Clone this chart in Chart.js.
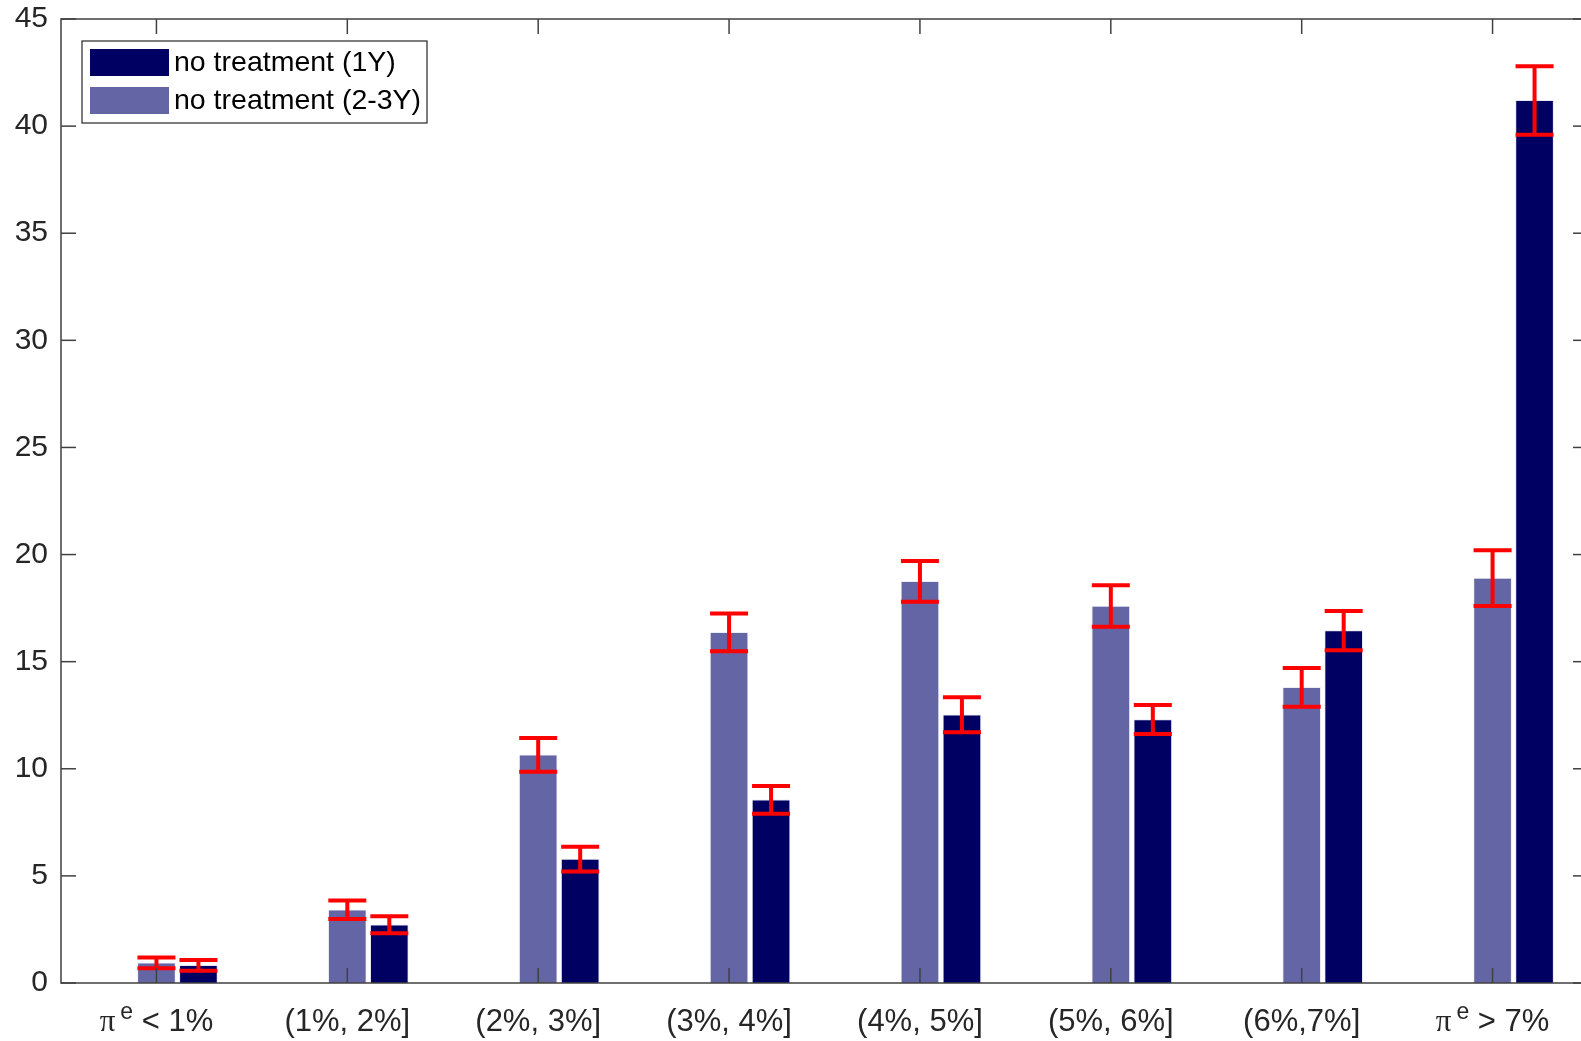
<!DOCTYPE html>
<html>
<head>
<meta charset="utf-8">
<script src="https://cdn.jsdelivr.net/npm/chart.js@4.4.1/dist/chart.umd.min.js"></script>
<style>
    html, body { margin: 0; padding: 0; background: #fff; overflow: hidden; }
    #wrap { width: 1600px; height: 1041px; }
</style>
</head>
<body>
<div id="wrap"><canvas id="expChart" width="1600" height="1041"></canvas></div>
<script>
// Expected inflation bins ("^" marks a superscript)
const categories = ["\u03c0^e < 1%", "(1%, 2%]", "(2%, 3%]", "(3%, 4%]", "(4%, 5%]", "(5%, 6%]", "(6%,7%]", "\u03c0^e > 7%"];

// Share of answers (%) and half-width of the error bar
const share1Y = [0.82, 2.72, 5.78, 8.55, 12.52, 12.3, 16.45, 41.2];
const err1Y = [0.25, 0.4, 0.58, 0.65, 0.82, 0.68, 0.92, 1.6];
const share23Y = [0.94, 3.42, 10.65, 16.37, 18.75, 17.6, 13.8, 18.9];
const err23Y = [0.25, 0.43, 0.79, 0.88, 0.95, 0.97, 0.9, 1.3];

const yTicks = [0, 5, 10, 15, 20, 25, 30, 35, 40, 45];

const FONT = "'Liberation Sans', Arial, Helvetica, sans-serif";
const TEXT_COLOR = "#262626";
const DARK = "#000062";
const LIGHT = "#6465a5";
const BAR_OFFSET = 0.22; // the 1Y bar sits right of the bin centre

// Error bars, axes box with inward ticks, x labels and legend
const decorations = {
    id: "decorations",
    afterDatasetsDraw(chart) {
        const ctx = chart.ctx;
        const area = chart.chartArea;
        const x = chart.scales.x;
        const y = chart.scales.y;

        function line(x1, y1, x2, y2) {
            ctx.beginPath();
            ctx.moveTo(x1, y1);
            ctx.lineTo(x2, y2);
            ctx.stroke();
        }

        ctx.save();

        // Error bars
        ctx.strokeStyle = "#ff0000";
        ctx.lineWidth = 4;
        chart.data.datasets.forEach((ds, d) => {
            const meta = chart.getDatasetMeta(d);
            meta.data.forEach((bar, i) => {
                const v = ds.data[i].y;
                const e = ds.errors[i];
                const top = y.getPixelForValue(v + e);
                const bot = y.getPixelForValue(v - e);
                const half = 19;
                line(bar.x, top, bar.x, bot);
                line(bar.x - half, top, bar.x + half, top);
                line(bar.x - half, bot, bar.x + half, bot);
            });
        });

        // Axes box
        ctx.strokeStyle = "#404040";
        ctx.lineWidth = 1.5;
        ctx.strokeRect(area.left, area.top, area.right - area.left, area.bottom - area.top);

        // Inward ticks on all four sides
        const len = 15;
        yTicks.forEach(v => {
            const py = y.getPixelForValue(v);
            line(area.left, py, area.left + len, py);
            line(area.right, py, area.right - len, py);
        });
        categories.forEach((c, i) => {
            const px = x.getPixelForValue(i + 1);
            line(px, area.bottom, px, area.bottom - len);
            line(px, area.top, px, area.top + len);
        });

        // X labels, with "^" giving a raised letter
        ctx.fillStyle = TEXT_COLOR;
        ctx.textBaseline = "alphabetic";
        ctx.textAlign = "left";
        categories.forEach((label, i) => {
            let parts;
            if (label.indexOf("^") >= 0) {
                const head = label.split("^")[0];
                const sup = label.split("^")[1].charAt(0);
                const rest = label.split("^")[1].slice(1);
                parts = [
                    { t: head, font: "31px 'Liberation Serif', 'Times New Roman', serif", dy: 0, gap: 5 },
                    { t: sup, font: "23px " + FONT, dy: -12, gap: 0 },
                    { t: rest, font: "31px " + FONT, dy: 0, gap: 0 }
                ];
            } else {
                parts = [{ t: label, font: "31px " + FONT, dy: 0, gap: 0 }];
            }
            let total = 0;
            parts.forEach(p => {
                ctx.font = p.font;
                p.w = ctx.measureText(p.t).width;
                total += p.w + p.gap;
            });
            let px = x.getPixelForValue(i + 1) - total / 2;
            const base = 1031;
            parts.forEach(p => {
                ctx.font = p.font;
                ctx.fillText(p.t, px, base + p.dy);
                px += p.w + p.gap;
            });
        });

        // Legend
        const lx = 82, ly = 41, lw = 345, lh = 82;
        ctx.fillStyle = "#ffffff";
        ctx.fillRect(lx, ly, lw, lh);
        ctx.strokeStyle = "#262626";
        ctx.lineWidth = 1.2;
        ctx.strokeRect(lx, ly, lw, lh);
        ctx.font = "28.5px " + FONT;
        ctx.textBaseline = "middle";
        chart.data.datasets.forEach((ds, d) => {
            const cy = 62.5 + d * 38;
            ctx.fillStyle = ds.backgroundColor;
            ctx.fillRect(90, cy - 13.5, 79, 27);
            ctx.fillStyle = "#000000";
            ctx.fillText(ds.label, 174, cy + 1);
        });

        ctx.restore();
    }
};

const ctx = document.getElementById("expChart").getContext("2d");

new Chart(ctx, {
    type: "bar",
    data: {
        datasets: [
            {
                label: "no treatment (1Y)",
                data: share1Y.map((v, i) => ({ x: i + 1 + BAR_OFFSET, y: v })),
                errors: err1Y,
                backgroundColor: DARK,
                borderColor: "rgba(200, 200, 230, 0.45)",
                borderWidth: 1,
                barThickness: 38,
                grouped: false
            },
            {
                label: "no treatment (2-3Y)",
                data: share23Y.map((v, i) => ({ x: i + 1, y: v })),
                errors: err23Y,
                backgroundColor: LIGHT,
                borderColor: "rgba(220, 220, 240, 0.5)",
                borderWidth: 1,
                barThickness: 38,
                grouped: false
            }
        ]
    },
    options: {
        responsive: false,
        animation: false,
        devicePixelRatio: 1,
        layout: { padding: { left: 0, top: 19, right: 12, bottom: 58 } },
        plugins: {
            legend: { display: false },
            tooltip: { enabled: false }
        },
        scales: {
            x: {
                type: "linear",
                min: 0.5,
                max: 8.5,
                offset: false,
                display: false
            },
            y: {
                min: 0,
                max: 45,
                afterBuildTicks: scale => {
                    scale.ticks = yTicks.map(v => ({ value: v }));
                },
                afterFit: scale => {
                    scale.width = 61;
                    scale.paddingTop = 0;
                    scale.paddingBottom = 0;
                },
                grid: { display: false, drawTicks: false },
                border: { display: false },
                ticks: {
                    padding: 13,
                    color: TEXT_COLOR,
                    font: { family: FONT, size: 30 }
                }
            }
        }
    },
    plugins: [decorations]
});
</script>
</body>
</html>
